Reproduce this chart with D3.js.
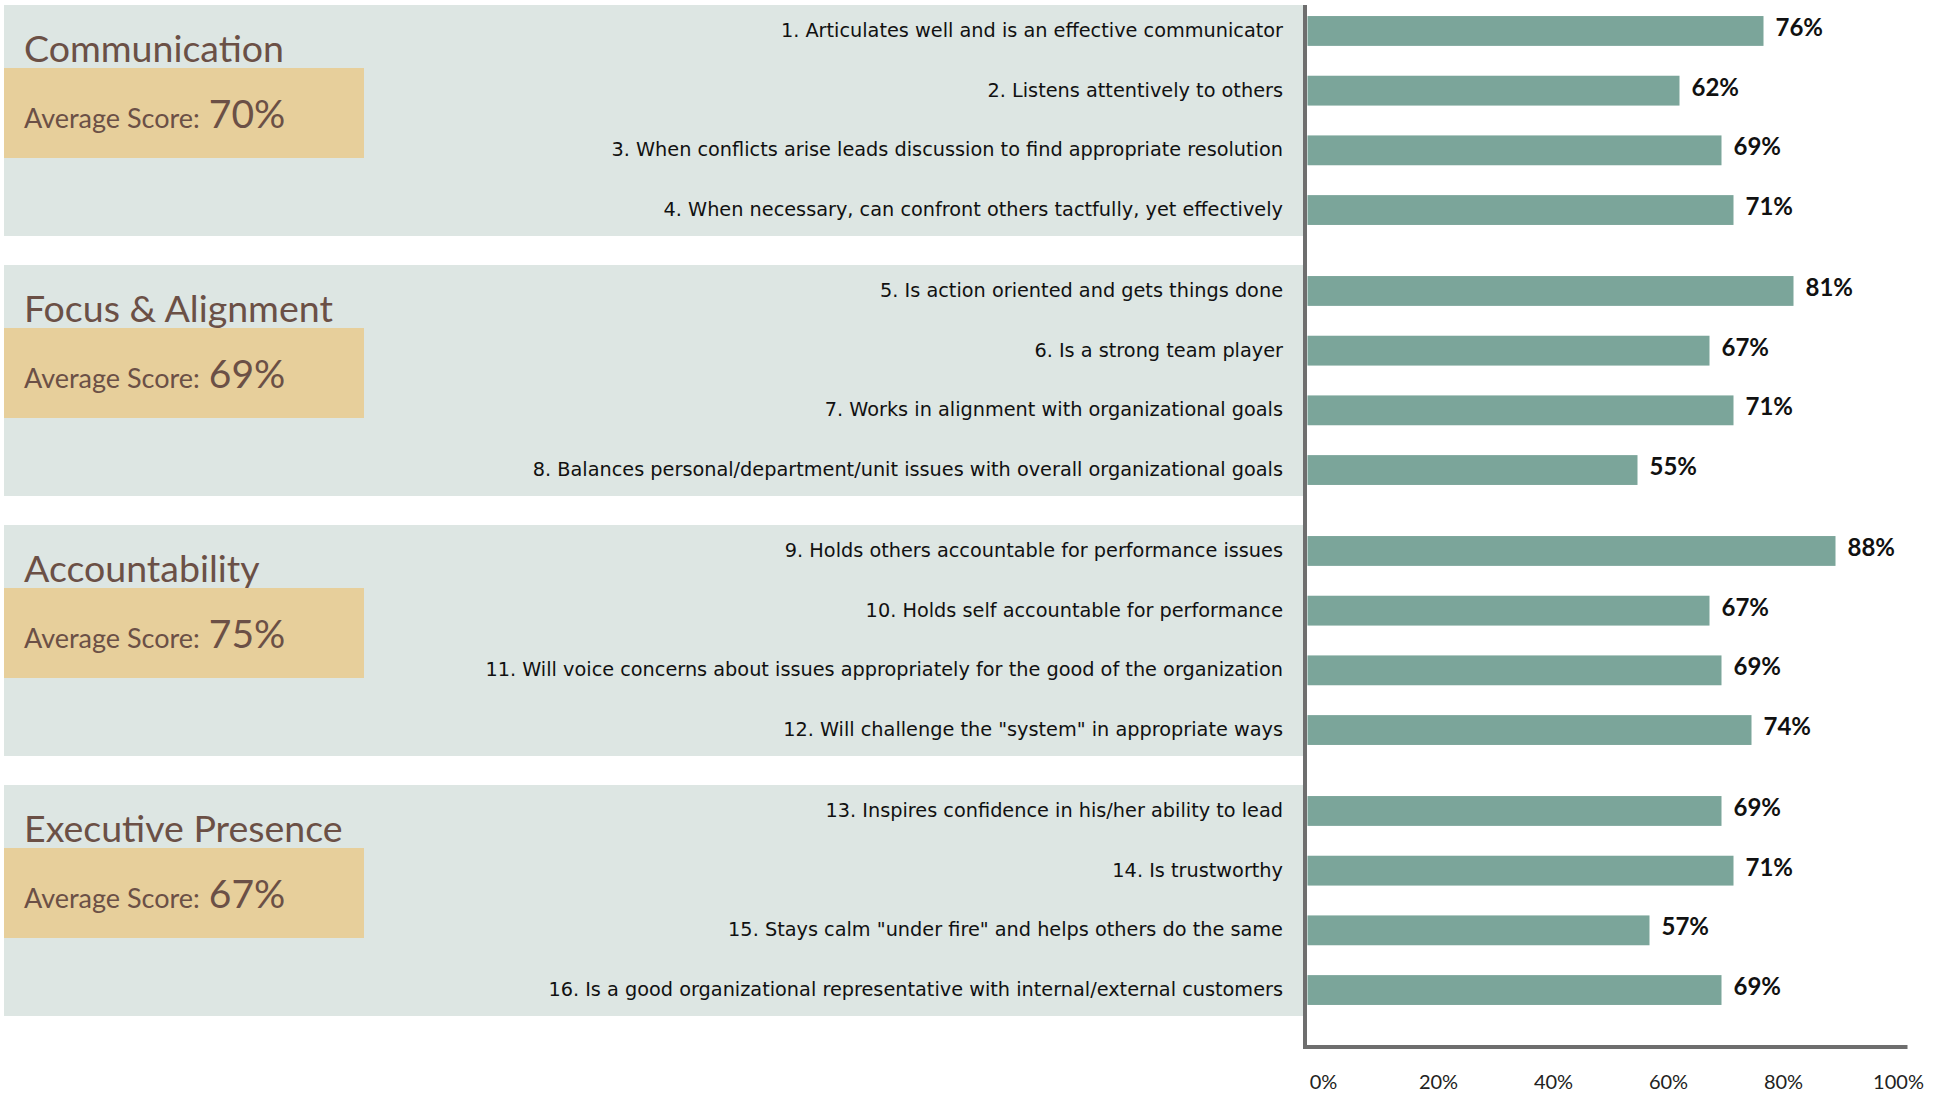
<!DOCTYPE html>
<html>
<head>
<meta charset="utf-8">
<script src="https://cdn.jsdelivr.net/npm/d3@7"></script>
<style>
  html, body { margin: 0; padding: 0; background: #ffffff; }
  svg { display: block; }
</style>
</head>
<body>
<svg id="chart" width="1948" height="1093"></svg>
<script>
// ---------- data ----------
const groups = ["Communication", "Focus & Alignment", "Accountability", "Executive Presence"];
const groupAverages = [70, 69, 75, 67];
const items = [
  "1. Articulates well and is an effective communicator",
  "2. Listens attentively to others",
  "3. When conflicts arise leads discussion to find appropriate resolution",
  "4. When necessary, can confront others tactfully, yet effectively",
  "5. Is action oriented and gets things done",
  "6. Is a strong team player",
  "7. Works in alignment with organizational goals",
  "8. Balances personal/department/unit issues with overall organizational goals",
  "9. Holds others accountable for performance issues",
  "10. Holds self accountable for performance",
  "11. Will voice concerns about issues appropriately for the good of the organization",
  "12. Will challenge the \"system\" in appropriate ways",
  "13. Inspires confidence in his/her ability to lead",
  "14. Is trustworthy",
  "15. Stays calm \"under fire\" and helps others do the same",
  "16. Is a good organizational representative with internal/external customers"
];
const itemGroup = [0,0,0,0, 1,1,1,1, 2,2,2,2, 3,3,3,3];
const itemIndexInGroup = [0,1,2,3, 0,1,2,3, 0,1,2,3, 0,1,2,3];
const scores = [76, 62, 69, 71, 81, 67, 71, 55, 88, 67, 69, 74, 69, 71, 57, 69];
const tickLabels = ["0%", "20%", "40%", "60%", "80%", "100%"];

// ---------- styles ----------
const C = {
  panel: "#dde6e3",
  gold: "#e7cf9b",
  bar: "#7ba59a",
  brown: "#6b5046",
  axis: "#6e6e6e",
  text: "#111111"
};

const svg = d3.select("#chart");

// ---------- scales ----------
const x = d3.scaleLinear().domain([0, 100]).range([1307.5, 1907.5]);
const gy = d3.scaleBand().domain(groups).range([5, 1016]).paddingInner(29 / 260).paddingOuter(0);
const ry = d3.scaleBand().domain([0, 1, 2, 3]).range([0, gy.bandwidth()]).paddingInner(0.5).paddingOuter(0.185);
const tickScale = d3.scalePoint().domain(tickLabels).range([1323, 1898]);

const rowCenter = i => gy(groups[itemGroup[i]]) + ry(itemIndexInGroup[i]) + ry.bandwidth() / 2;

// ---------- group panels ----------
const gp = svg.append("g").selectAll("g").data(groups).join("g")
  .attr("transform", d => `translate(0,${gy(d)})`);

gp.append("rect")
  .attr("x", 4).attr("y", 0)
  .attr("width", 1299).attr("height", gy.bandwidth())
  .attr("fill", C.panel);

gp.append("rect")
  .attr("x", 4).attr("y", 63)
  .attr("width", 360).attr("height", 90)
  .attr("fill", C.gold);

gp.append("text")
  .attr("x", 24).attr("y", 57)
  .attr("font-family", "Lato, 'Open Sans', sans-serif")
  .attr("font-size", 37.5)
  .attr("fill", C.brown)
  .text(d => d);

const avg = gp.append("text")
  .attr("x", 24).attr("y", 123)
  .attr("font-family", "Lato, 'Open Sans', sans-serif")
  .attr("fill", C.brown);
avg.append("tspan").attr("font-size", 27).text("Average Score:");
avg.append("tspan").attr("font-size", 39).attr("dx", 9).text((d, i) => groupAverages[i] + "%");

// ---------- category labels ----------
svg.append("g").selectAll("text").data(items).join("text")
  .attr("x", 1283)
  .attr("y", (d, i) => rowCenter(i) + 6)
  .attr("text-anchor", "end")
  .attr("font-family", "'DejaVu Sans', Verdana, sans-serif")
  .attr("font-size", 19.3)
  .attr("fill", C.text)
  .text(d => d);

// ---------- bars ----------
svg.append("g").selectAll("rect").data(scores).join("rect")
  .attr("x", x(0))
  .attr("y", (d, i) => rowCenter(i) - ry.bandwidth() / 2)
  .attr("width", d => x(d) - x(0))
  .attr("height", ry.bandwidth())
  .attr("fill", C.bar);

// ---------- value labels ----------
svg.append("g").selectAll("text").data(scores).join("text")
  .attr("x", d => x(d) + 12)
  .attr("y", (d, i) => rowCenter(i) + 5)
  .attr("font-family", "Lato, 'Open Sans', sans-serif")
  .attr("font-weight", 700)
  .attr("font-size", 24)
  .attr("fill", C.text)
  .text(d => d + "%");

// ---------- axes ----------
svg.append("line")
  .attr("x1", x(0) - 2.5).attr("x2", x(0) - 2.5)
  .attr("y1", 5).attr("y2", 1049)
  .attr("stroke", C.axis).attr("stroke-width", 4);
svg.append("line")
  .attr("x1", x(0) - 4.5).attr("x2", x(100))
  .attr("y1", 1047).attr("y2", 1047)
  .attr("stroke", C.axis).attr("stroke-width", 4);

const ax = svg.append("g")
  .attr("transform", "translate(0,1047)")
  .call(d3.axisBottom(tickScale).tickSize(0).tickPadding(0));
ax.select(".domain").remove();
ax.selectAll("text")
  .attr("y", 42).attr("dy", 0)
  .attr("font-family", "Lato, 'Open Sans', sans-serif")
  .attr("font-size", 20)
  .attr("fill", "#222");
</script>
</body>
</html>
